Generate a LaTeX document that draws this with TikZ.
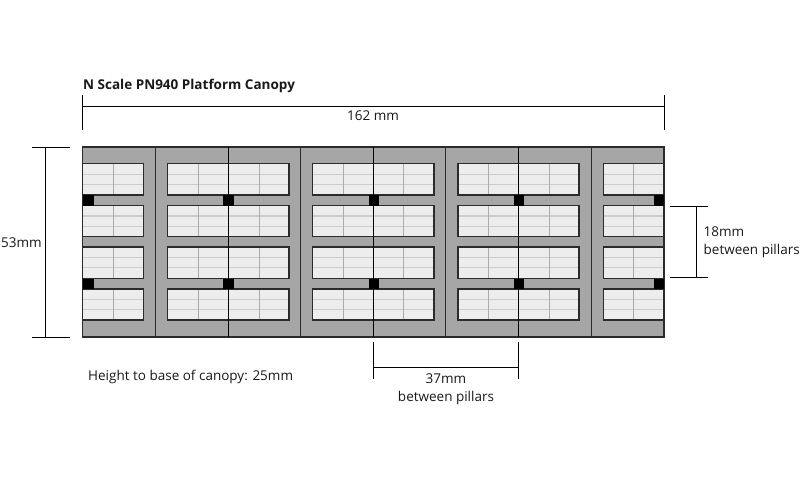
\documentclass[tikz,border=0pt]{standalone}
\usepackage{fontspec}
\setmainfont{Open Sans}
\usepackage{xcolor}
\definecolor{roofgrey}{HTML}{A6A6A6}
\definecolor{panegrey}{HTML}{EDEDED}
\definecolor{barlight}{HTML}{CDCDCD}
\definecolor{barmid}{HTML}{ABABAB}
\definecolor{frameline}{HTML}{2B2B2B}

\begin{document}
\begin{tikzpicture}[x=1pt,y=-1pt,font=\fontsize{13.5}{18}\selectfont]
  \tikzstyle{dimline}=[draw=black,line width=1pt]
  \tikzstyle{label}=[inner sep=0pt,align=center,text=black!90]
  \tikzstyle{pillar}=[fill=black]
  \tikzstyle{seam}=[draw=frameline,line width=1.1pt]
  \tikzstyle{midseam}=[draw=black,line width=1pt]

  \useasboundingbox (0,0) rectangle (800,500);

  % roof
  \filldraw[fill=roofgrey,draw=frameline,line width=1.1pt] (82.8,147) rectangle (664,337);

  % glazing
  \foreach \xa/\xb/\marks in {82.8/143.5/{113},167.7/289/{198,259},312.7/434/{343.3,403.7},458/579/{488.5,549.5},603.3/664/{633.7}}{
    \foreach \ya/\yb in {163.8/195,205.5/236.7,247/278.5,289/320}{
      \fill[panegrey] (\xa,\ya) rectangle (\xb,\yb);
      \foreach \f in {0.34,0.67}
        \draw[barlight,line width=1.2pt] (\xa,\ya+\f*31) -- (\xb,\ya+\f*31);
      \foreach \m in \marks
        \draw[barmid,line width=0.8pt] (\m,\ya) -- (\m,\yb);
      \draw[frameline,line width=1.15pt] (\xa,\ya) rectangle (\xb,\yb);
    }
  }

  % roof seams
  \foreach \x in {155.5,300.5,445.7,591.5}
    \draw[seam] (\x,147) -- (\x,337);
  \foreach \x in {228.5,373.5,518.5}
    \draw[midseam] (\x,147) -- (\x,337);

  % pillars
  \foreach \x in {82.8,223,368.5,513.5,653.5}
    \foreach \y in {195,278.5}
      \fill[pillar] (\x,\y) rectangle +(10.7,10.5);

  % overall length
  \coordinate (la) at (82.8,95);  \coordinate (lb) at (82.8,130);
  \coordinate (lc) at (664,95); \coordinate (ld) at (664,130);
  \coordinate (le) at (82.8,106.5); \coordinate (lf) at (664,106.5);
  \path[dimline] (la) -- (lb) (lc) -- (ld) (le) -- (lf);

  % overall width
  \coordinate (wa) at (32,147.5); \coordinate (wb) at (70,147.5);
  \coordinate (wc) at (32,337.5); \coordinate (wd) at (70,337.5);
  \coordinate (we) at (45,147.5); \coordinate (wf) at (45,337.5);
  \path[dimline] (wa) -- (wb) (wc) -- (wd) (we) -- (wf);

  % pillars across
  \coordinate (pa) at (670,206.5); \coordinate (pb) at (708,206.5);
  \coordinate (pc) at (670,277.5);   \coordinate (pd) at (708,277.5);
  \coordinate (pe) at (696.5,206.5); \coordinate (pf) at (696.5,277.5);
  \path[dimline] (pa) -- (pb) (pc) -- (pd) (pe) -- (pf);

  % pillars along
  \coordinate (sa) at (373.5,342); \coordinate (sb) at (373.5,379);
  \coordinate (sc) at (518.5,342); \coordinate (sd) at (518.5,379);
  \coordinate (se) at (373.5,367.5); \coordinate (sf) at (518.5,367.5);
  \path[dimline] (sa) -- (sb) (sc) -- (sd) (se) -- (sf);

  \node[label,anchor=west,font=\fontsize{13.5}{18}\selectfont\bfseries] (title) at (83,86) {N Scale PN940 Platform Canopy};
  \node[label] (length) at (373,116) {162 mm};
  \node[label,anchor=west] (width) at (1,242.5) {53mm};
  \node[label,anchor=west,align=left] (across) at (703.5,242.5) {18mm\\between pillars};
  \node[label] (along) at (446,389) {37mm\\between pillars};
  \node[label,anchor=west] (height) at (88,376.5) {Height to base of canopy: 25mm};
\end{tikzpicture}
\end{document}
